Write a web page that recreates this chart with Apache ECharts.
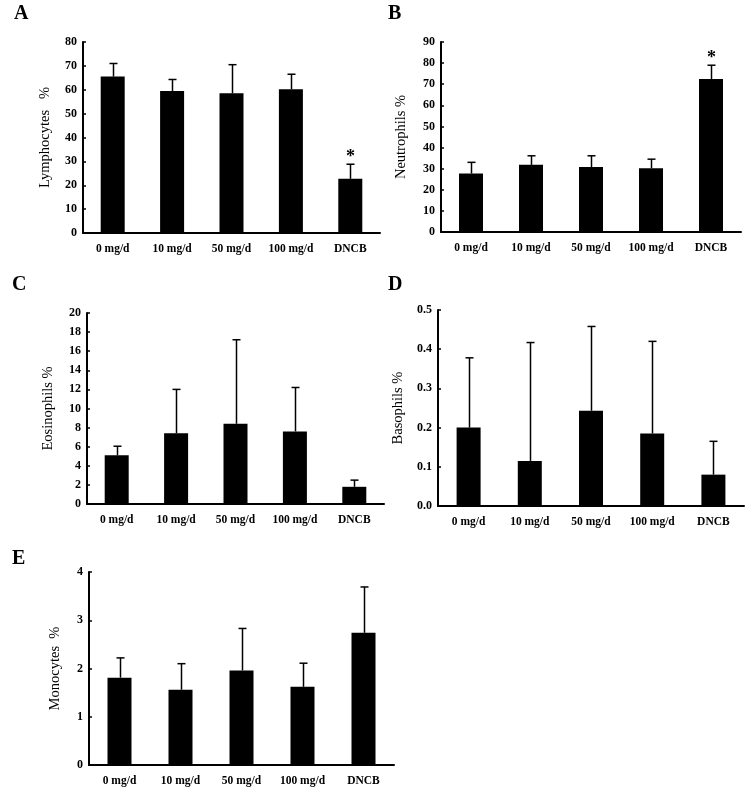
<!DOCTYPE html>
<html><head><meta charset="utf-8">
<script src="https://cdn.jsdelivr.net/npm/echarts@6/dist/echarts.min.js"></script>
<style>html,body{margin:0;padding:0;background:#fff}#c{width:749px;height:790px}</style>
</head><body><div id="c"></div>
<script>
const categories = ['0 mg/d', '10 mg/d', '50 mg/d', '100 mg/d', 'DNCB'];

const lymphMean = [65.5, 59.5, 58.5, 60.2, 22.7];
const lymphSD   = [5.5, 4.8, 12.0, 6.3, 6.1];
const lymphSig  = ['', '', '', '', '*'];

const neutMean = [27.7, 31.8, 30.8, 30.2, 72.5];
const neutSD   = [5.3, 4.3, 5.3, 4.3, 6.5];
const neutSig  = ['', '', '', '', '*'];

const eosMean = [5.1, 7.4, 8.4, 7.6, 1.8];
const eosSD   = [0.95, 4.6, 8.8, 4.6, 0.7];

const basoMean = [0.200, 0.115, 0.243, 0.185, 0.080];
const basoSD   = [0.178, 0.302, 0.215, 0.235, 0.085];

const monoMean = [1.81, 1.56, 1.96, 1.62, 2.74];
const monoSD   = [0.41, 0.54, 0.87, 0.49, 0.95];

const yTicksA = {min: 0, max: 80, interval: 10};
const yTicksB = {min: 0, max: 90, interval: 10};
const yTicksC = {min: 0, max: 20, interval: 2};
const yTicksD = {min: 0, max: 0.5, interval: 0.1};
const yTicksE = {min: 0, max: 4, interval: 1};

const FONT = '"Liberation Serif", "Times New Roman", serif';

const panels = [
  {letter: 'A', name: 'Lymphocytes   %', mean: lymphMean, sd: lymphSD, sig: lymphSig, ticks: yTicksA, dec: 0,
   grid: {left: 83, top: 42, width: 297, height: 191}, lx: 14, ly: 4, gap: 30},
  {letter: 'B', name: 'Neutrophils %', mean: neutMean, sd: neutSD, sig: neutSig, ticks: yTicksB, dec: 0,
   grid: {left: 441, top: 42, width: 300, height: 190}, lx: 388, ly: 4, gap: 32},
  {letter: 'C', name: 'Eosinophils %', mean: eosMean, sd: eosSD, sig: null, ticks: yTicksC, dec: 0,
   grid: {left: 87, top: 313, width: 297, height: 191}, lx: 12, ly: 275, gap: 31},
  {letter: 'D', name: 'Basophils %', mean: basoMean, sd: basoSD, sig: null, ticks: yTicksD, dec: 1,
   grid: {left: 438, top: 310, width: 306, height: 196}, lx: 388, ly: 275, gap: 32},
  {letter: 'E', name: 'Monocytes  %', mean: monoMean, sd: monoSD, sig: null, ticks: yTicksE, dec: 0,
   grid: {left: 89, top: 572, width: 305, height: 193}, lx: 12, ly: 549, gap: 26}
];

const option = {
  backgroundColor: '#ffffff',
  animation: false,
  title: [], grid: [], xAxis: [], yAxis: [], series: []
};

panels.forEach((p, i) => {
  option.title.push({
    text: p.letter, left: p.lx, top: p.ly, padding: 0,
    textStyle: {fontFamily: FONT, fontWeight: 'bold', fontSize: 20, color: '#000'}
  });
  option.grid.push(Object.assign({containLabel: false}, p.grid));
  option.xAxis.push({
    type: 'category', gridIndex: i, data: categories, boundaryGap: true,
    axisLine: {lineStyle: {color: '#000', width: 2}},
    axisTick: {show: false},
    axisLabel: {fontFamily: FONT, fontWeight: 'bold', fontSize: 11.5, color: '#000', margin: 10, interval: 0}
  });
  option.yAxis.push({
    type: 'value', gridIndex: i, min: p.ticks.min, max: p.ticks.max, interval: p.ticks.interval,
    name: p.name, nameLocation: 'middle', nameGap: p.gap, nameRotate: 90,
    nameTextStyle: {fontFamily: FONT, fontSize: 14.5, color: '#000'},
    axisLine: {show: true, lineStyle: {color: '#000', width: 2}},
    axisTick: {show: true, inside: true, length: 3, lineStyle: {color: '#000', width: 1.5}},
    splitLine: {show: false},
    axisLabel: {fontFamily: FONT, fontWeight: 'bold', fontSize: 12, color: '#000', margin: 6,
      formatter: v => v.toFixed(p.dec)}
  });
  option.series.push({
    type: 'bar', xAxisIndex: i, yAxisIndex: i, data: p.mean, barWidth: 24,
    itemStyle: {color: '#000'}, z: 2
  });
  const errData = p.mean.map((m, k) => [k, m, m + p.sd[k], p.sig ? p.sig[k] : '']);
  option.series.push({
    type: 'custom', xAxisIndex: i, yAxisIndex: i, data: errData, z: 3,
    renderItem: (params, api) => {
      const base = api.coord([api.value(0), api.value(1)]);
      const top = api.coord([api.value(0), api.value(2)]);
      const x = Math.round(base[0]) + 0.5;
      const children = [
        {type: 'line', shape: {x1: x, y1: base[1], x2: x, y2: top[1]}, style: {stroke: '#000', lineWidth: 1.5}},
        {type: 'line', shape: {x1: x - 4, y1: top[1], x2: x + 4, y2: top[1]}, style: {stroke: '#000', lineWidth: 1.5}}
      ];
      const s = errData[params.dataIndex][3];
      if (s) {
        children.push({type: 'text', x: x, y: top[1] + 2,
          style: {text: s, fontFamily: FONT, fontWeight: 'bold', fontSize: 18, fill: '#000',
            textAlign: 'center', textVerticalAlign: 'bottom'}});
      }
      return {type: 'group', children};
    }
  });
});

const chart = echarts.init(document.getElementById('c'), null, {renderer: 'canvas'});
chart.setOption(option);
</script>
</body></html>
